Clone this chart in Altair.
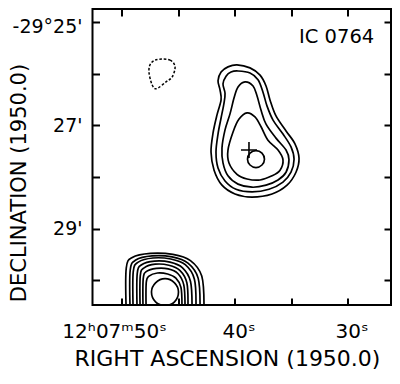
import json
import altair as alt
import pandas as pd

FONT = "DejaVu Sans"

# ---- axes (RA in seconds of 12h07m, Dec in arcmin south of -29 deg) ----
ra_ticks = [50, 45, 40, 35, 30]
ra_tick_labels = ["12ʰ07ᵐ50ˢ", "", "40ˢ", "", "30ˢ"]
dec_ticks = [25, 26, 27, 28, 29, 30]
dec_tick_labels = ["-29°25'", "", "27'", "", "29'", ""]
ra_domain = [26.15, 52.57]
dec_domain = [24.75, 30.48]

# ---- main source contours (closed) ----
main1_ra = [39.78, 38.63, 37.74, 37.21, 36.86, 36.33, 35.44, 34.65, 34.29, 34.56, 35.35, 36.68,
            38.45, 39.96, 41.11, 41.81, 42.08, 41.90, 41.55, 41.19, 41.28, 41.46, 41.19, 40.58]
main1_dec = [25.83, 25.89, 26.03, 26.24, 26.51, 26.82, 27.11, 27.36, 27.64, 27.91, 28.16, 28.33,
             28.39, 28.33, 28.16, 27.87, 27.52, 27.15, 26.80, 26.51, 26.32, 26.14, 25.97, 25.87]
main2_ra = [39.69, 38.63, 37.92, 37.48, 37.12, 36.59, 35.71, 35.00, 34.73, 35.00, 35.71, 36.95,
            38.45, 39.87, 40.84, 41.46, 41.64, 41.46, 41.19, 40.93, 40.84, 41.02, 40.75, 40.31]
main2_dec = [25.95, 25.99, 26.12, 26.36, 26.63, 26.90, 27.17, 27.42, 27.66, 27.91, 28.10, 28.24,
             28.29, 28.24, 28.08, 27.83, 27.52, 27.17, 26.86, 26.57, 26.38, 26.20, 26.05, 25.97]
main3_ra = [39.07, 38.36, 38.01, 37.65, 37.21, 36.33, 35.44, 35.18, 35.44, 36.15, 37.21, 38.45,
            39.69, 40.58, 41.02, 41.11, 40.84, 40.40, 40.04, 39.69]
main3_dec = [26.16, 26.24, 26.43, 26.71, 26.98, 27.25, 27.48, 27.67, 27.91, 28.06, 28.16, 28.20,
             28.14, 27.98, 27.73, 27.44, 27.09, 26.78, 26.47, 26.26]
main4_ra = [38.89, 38.19, 37.65, 37.04, 36.15, 35.71, 35.97, 36.68, 37.74, 38.89, 39.78, 40.49,
            40.58, 40.13, 39.60]
main4_dec = [26.76, 26.84, 27.03, 27.29, 27.48, 27.67, 27.87, 27.98, 28.06, 28.04, 27.95, 27.73,
             27.48, 27.13, 26.88]
main5_ra = [37.35, 37.57, 38.10, 38.63, 38.85, 38.63, 38.10, 37.57]
main5_dec = [27.66, 27.77, 27.82, 27.77, 27.66, 27.54, 27.49, 27.54]

# ---- bottom source: inner closed contour and open arcs cut by the map edge ----
south_core_ra = [44.96, 45.31, 46.15, 46.99, 47.35, 46.99, 46.15, 45.31]
south_core_dec = [30.23, 30.42, 30.49, 30.42, 30.23, 30.05, 29.97, 30.05]
arc0_ra = [49.60, 49.58, 49.05, 47.45, 45.46, 43.90, 42.90, 42.70]
arc0_dec = [30.50, 29.76, 29.56, 29.48, 29.50, 29.62, 29.92, 30.50]
arc1_ra = [49.25, 49.23, 48.74, 47.30, 45.53, 44.12, 43.22, 43.05]
arc1_dec = [30.50, 29.80, 29.61, 29.53, 29.55, 29.67, 29.96, 30.50]
arc2_ra = [48.98, 48.96, 48.52, 47.22, 45.64, 44.36, 43.55, 43.41]
arc2_dec = [30.50, 29.83, 29.65, 29.57, 29.59, 29.70, 29.98, 30.50]
arc3_ra = [48.63, 48.61, 48.22, 47.09, 45.71, 44.60, 43.90, 43.76]
arc3_dec = [30.50, 29.87, 29.70, 29.63, 29.65, 29.76, 30.02, 30.50]
arc4_ra = [48.36, 48.34, 48.00, 47.02, 45.81, 44.84, 44.22, 44.12]
arc4_dec = [30.50, 29.91, 29.76, 29.69, 29.71, 29.81, 30.05, 30.50]
arc5_ra = [48.10, 48.08, 47.79, 46.92, 45.87, 45.02, 44.49, 44.38]
arc5_dec = [30.50, 29.97, 29.83, 29.77, 29.78, 29.87, 30.09, 30.50]
arc6_ra = [47.83, 47.81, 47.57, 46.83, 45.92, 45.19, 44.74, 44.65]
arc6_dec = [30.50, 30.04, 29.92, 29.86, 29.88, 29.96, 30.14, 30.50]

# ---- negative contour (dashed) ----
neg_ra = [46.33, 45.71, 45.35, 45.27, 45.53, 46.06, 46.77, 47.12, 47.39, 47.57, 47.48, 47.04]
neg_dec = [25.72, 25.74, 25.81, 25.91, 26.07, 26.16, 26.28, 26.28, 26.16, 25.97, 25.83, 25.74]

# ---- optical position and label ----
cross_ra = [38.72]
cross_dec = [27.48]
label_text = ["IC 0764"]
label_ra = [34.29]
label_dec = [25.41]


def table(named):
    rows = []
    for cid, (ras, decs) in named.items():
        for i, (r, d) in enumerate(zip(ras, decs)):
            rows.append({"cid": cid, "i": i, "ra": r, "dec": d})
    return pd.DataFrame(rows)


def label_expr(values, labels):
    e = '""'
    for v, l in reversed(list(zip(values, labels))):
        e = f"datum.value == {v} ? {json.dumps(l, ensure_ascii=False)} : ({e})"
    return e


closed_df = table({
    "m1": (main1_ra, main1_dec), "m2": (main2_ra, main2_dec), "m3": (main3_ra, main3_dec),
    "m4": (main4_ra, main4_dec), "m5": (main5_ra, main5_dec),
    "s0": (south_core_ra, south_core_dec),
})
open_df = table({
    "a0": (arc0_ra, arc0_dec), "a1": (arc1_ra, arc1_dec), "a2": (arc2_ra, arc2_dec),
    "a3": (arc3_ra, arc3_dec), "a4": (arc4_ra, arc4_dec), "a5": (arc5_ra, arc5_dec),
    "a6": (arc6_ra, arc6_dec),
})
neg_df = table({"n1": (neg_ra, neg_dec)})
cross_df = pd.DataFrame({"ra": cross_ra, "dec": cross_dec})
label_df = pd.DataFrame({"text": label_text, "ra": label_ra, "dec": label_dec})

xs = alt.Scale(domain=ra_domain, reverse=True, nice=False, zero=False)
ys = alt.Scale(domain=dec_domain, reverse=True, nice=False, zero=False)

common_tick = dict(values=ra_ticks, offset=-7, tickSize=7, tickWidth=2, tickColor="black",
                   domain=False, grid=False)

bottom_axis = alt.Axis(
    orient="bottom", **common_tick,
    labelExpr=label_expr(ra_ticks, ra_tick_labels), labelFont=FONT, labelFontSize=20,
    labelColor="black", labelPadding=16, labelFlush=False, labelOverlap=False,
    labelOffset={"condition": {"test": "datum.value == 50", "value": -7.5}, "value": 4},
    title="RIGHT ASCENSION (1950.0)", titleFont=FONT, titleFontSize=22, titleFontWeight="normal",
    titleColor="black", titleX=134.5, titleY=67, titleAlign="center", titleBaseline="alphabetic",
)
top_axis = alt.Axis(orient="top", **common_tick, labels=False, title=None)

dec_tick = dict(values=dec_ticks, offset=-7, tickSize=7, tickWidth=2, tickColor="black",
                domain=False, grid=False)
left_axis = alt.Axis(
    orient="left", **dec_tick,
    labelExpr=label_expr(dec_ticks, dec_tick_labels), labelFont=FONT, labelFontSize=19,
    labelColor="black", labelPadding=10.5, labelFlush=False, labelOverlap=False,
    labelOffset={"condition": {"test": "datum.value == 25", "value": 4.5}, "value": 0},
    title="DECLINATION (1950.0)", titleFont=FONT, titleFontSize=21, titleFontWeight="normal",
    titleColor="black", titleX=-74, titleY=173.5, titleAlign="center", titleBaseline="alphabetic",
    titleAngle=270,
)
right_axis = alt.Axis(orient="right", **dec_tick, labels=False, title=None)

closed = alt.Chart(closed_df).mark_line(
    interpolate="cardinal-closed", color="black", strokeWidth=1.7, clip=True
).encode(
    x=alt.X("ra:Q", scale=xs, axis=bottom_axis),
    y=alt.Y("dec:Q", scale=ys, axis=left_axis),
    detail="cid:N", order="i:Q",
)

opened = alt.Chart(open_df).mark_line(
    interpolate="cardinal", color="black", strokeWidth=1.7, clip=True
).encode(
    x=alt.X("ra:Q", scale=xs, axis=None),
    y=alt.Y("dec:Q", scale=ys, axis=None),
    detail="cid:N", order="i:Q",
)

negative = alt.Chart(neg_df).mark_line(
    interpolate="cardinal-closed", color="black", strokeWidth=1.5, strokeDash=[2.5, 1.8], clip=True
).encode(
    x=alt.X("ra:Q", scale=xs, axis=top_axis),
    y=alt.Y("dec:Q", scale=ys, axis=right_axis),
    detail="cid:N", order="i:Q",
)

cross = alt.Chart(cross_df).mark_point(
    shape="M-1,0H1M0,-1V1", size=256, filled=False, color="black", strokeWidth=1.6, opacity=1
).encode(
    x=alt.X("ra:Q", scale=xs, axis=None),
    y=alt.Y("dec:Q", scale=ys, axis=None),
)

label = alt.Chart(label_df).mark_text(
    font=FONT, fontSize=19.5, color="black", align="left", baseline="alphabetic"
).encode(
    x=alt.X("ra:Q", scale=xs, axis=None),
    y=alt.Y("dec:Q", scale=ys, axis=None),
    text="text:N",
)

chart = alt.layer(closed, opened, negative, cross, label).resolve_axis(
    x="independent", y="independent"
).properties(
    width=298.5, height=296,
    autosize=alt.AutoSizeParams(type="none"),
    padding={"left": 84.5, "top": 1, "right": 1, "bottom": 66},
    background="white",
).configure_view(stroke="black", strokeWidth=2)

chart.save("out.html", embed_options={"renderer": "svg", "actions": False})
